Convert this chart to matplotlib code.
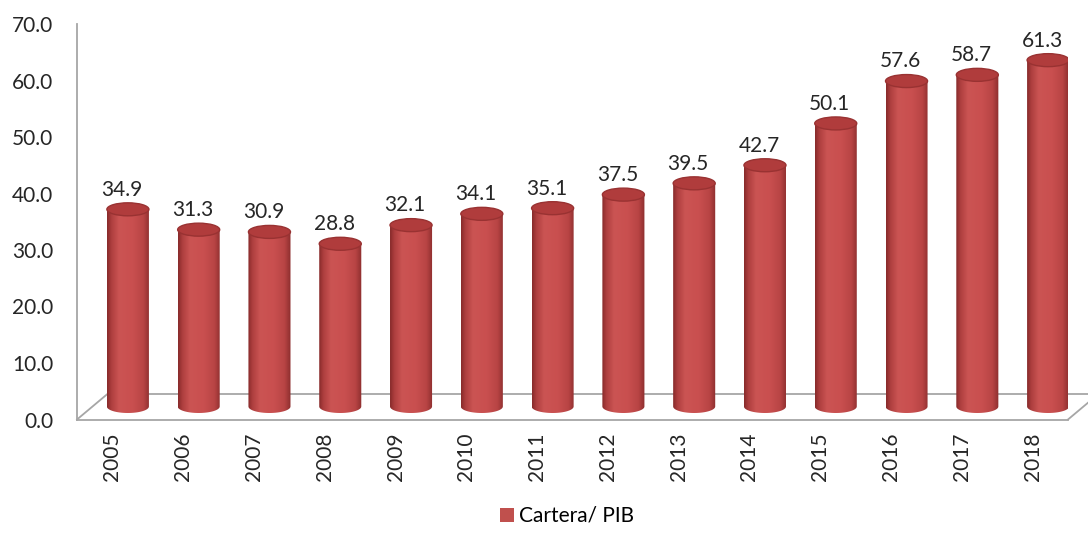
import numpy as np
import matplotlib
matplotlib.use("Agg")
import matplotlib.pyplot as plt
from matplotlib.colors import LinearSegmentedColormap
from matplotlib.patches import Ellipse, PathPatch, Patch
from matplotlib.path import Path
from matplotlib.transforms import ScaledTranslation

plt.rcParams['font.family'] = ['Lato', 'DejaVu Sans']

years = ['2005', '2006', '2007', '2008', '2009', '2010', '2011',
         '2012', '2013', '2014', '2015', '2016', '2017', '2018']
cartera_pib = [34.9, 31.3, 30.9, 28.8, 32.1, 34.1, 35.1,
               37.5, 39.5, 42.7, 50.1, 57.6, 58.7, 61.3]
serie = 'Cartera/ PIB'

# shading across the cylinder, left edge to right edge
cyl = LinearSegmentedColormap.from_list('cyl', [
    (0.00, '#862a2a'), (0.10, '#ad3e3e'), (0.28, '#cb5453'),
    (0.60, '#c94f4f'), (0.85, '#b84444'), (1.00, '#8c2e2e')])
grad = np.linspace(0, 1, 256).reshape(1, -1)

fig = plt.figure(figsize=(10.88, 5.34), dpi=100)
ax = fig.add_axes([77 / 1088, 114.5 / 534, 991 / 1088, 395.5 / 534])
ax.set_xlim(-0.5, len(years) - 0.5)
ax.set_ylim(0, 70)

gray = '#a6a6a6'
for s in ['top', 'right']:
    ax.spines[s].set_visible(False)
ax.spines['left'].set_color(gray)
ax.spines['bottom'].set_color(gray)
ax.spines['left'].set_linewidth(1.3)
ax.spines['bottom'].set_linewidth(1.3)

# floor depth (back edge) and bar placement halfway into it
back = ax.transData + ScaledTranslation(0.31, 0.26, fig.dpi_scale_trans)
mid = ax.transData + ScaledTranslation(0.155, 0.13, fig.dpi_scale_trans)
x0, x1 = -0.5, len(years) - 0.5
ax.plot([x0, x1], [0, 0], color=gray, lw=1.3, transform=back, clip_on=False, zorder=1)
for xe in (x0, x1):
    ax.plot([xe, xe], [0, 0], color=gray, lw=1.3, clip_on=False, zorder=1)
    px0 = ax.transData.transform((xe, 0))
    px1 = back.transform((xe, 0))
    ax.add_line(plt.Line2D([px0[0], px1[0]], [px0[1], px1[1]], color=gray,
                           lw=1.3, transform=None, clip_on=False, zorder=1))

w = 0.594   # bar width in category units
h = 2.3     # ellipse height in value units
for i, v in enumerate(cartera_pib):
    th = np.linspace(np.pi, 2 * np.pi, 40)
    pts = [(i - w / 2, v), (i - w / 2, 0)]
    pts += list(zip(i + w / 2 * np.cos(th), h / 2 * np.sin(th)))
    pts += [(i + w / 2, v), (i - w / 2, v)]
    clip = PathPatch(Path(pts), transform=mid, facecolor='none', edgecolor='none')
    ax.add_patch(clip)
    im = ax.imshow(grad, cmap=cyl, aspect='auto', extent=(i - w / 2, i + w / 2, -h / 2, v),
                   transform=mid, zorder=3, interpolation='bilinear')
    im.set_clip_path(clip)
    ax.add_patch(Ellipse((i, v), w, h, transform=mid, facecolor='#b03c3c',
                         edgecolor='#993232', lw=1.0, zorder=4))
    ax.annotate(f'{v:.1f}', (i, v), xytext=(6.8, 23.5), textcoords='offset points',
                ha='center', va='center', fontsize=15, color='#262626', zorder=5)

ax.set_xticks(range(len(years)))
ax.set_xticklabels(years, rotation=90, fontsize=15, color='#262626')
ax.set_yticks(range(0, 71, 10))
ax.set_yticklabels([f'{t:.1f}' for t in range(0, 71, 10)], fontsize=15, color='#262626')
ax.tick_params(axis='x', length=0, pad=9.7)
ax.tick_params(axis='y', length=0, pad=17)

fig.legend(handles=[Patch(facecolor='#c0504d')], labels=[serie], loc='center',
           bbox_to_anchor=(567 / 1088, 1 - 516 / 534), frameon=False, fontsize=15,
           handlelength=0.67, handleheight=0.67, handletextpad=0.25)

fig.savefig('out.png', dpi=100)
